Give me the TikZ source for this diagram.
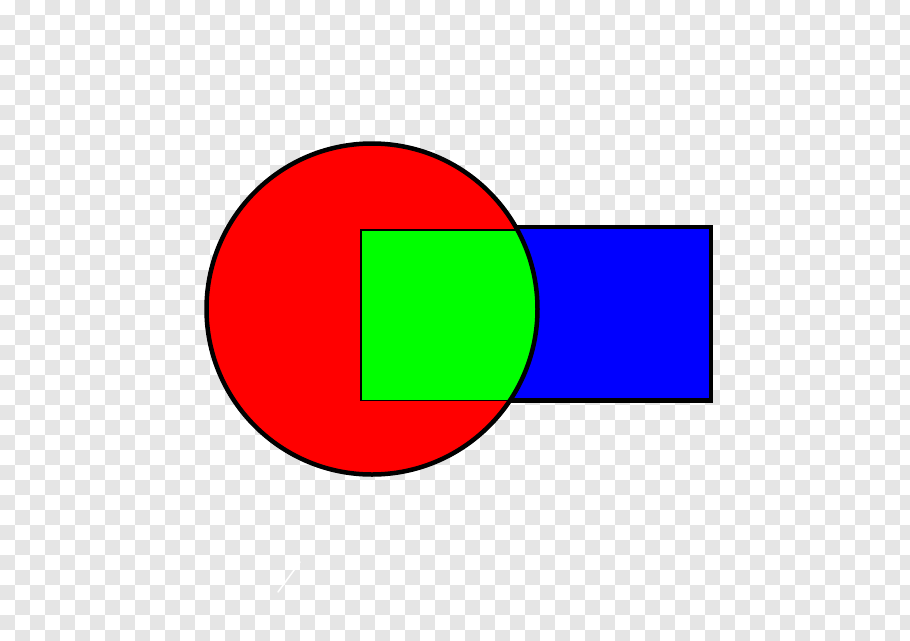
\documentclass[tikz,border=0pt]{standalone}
\usepackage{tikz}

\definecolor{checkgray}{RGB}{229,229,229}
\definecolor{pure red}{RGB}{255,0,0}
\definecolor{pure green}{RGB}{0,255,0}
\definecolor{pure blue}{RGB}{0,0,255}

\begin{document}
\begin{tikzpicture}[
    x=0.02cm, y=-0.02cm,
    outline/.style={draw=black, line width=0.09cm},
    thinline/.style={draw=black, line width=0.036cm},
    tile/.style={fill=checkgray}
]
\useasboundingbox (0,0) rectangle (910,640);

% transparency checkerboard
\fill[white] (0,0) rectangle (910,640);
\begin{scope}
\clip (0,0) rectangle (910,640);
\foreach \i in {0,...,30}
  \foreach \j in {0,...,21} {
    \fill[tile] (30*\i+15,30*\j) rectangle ++(15,15);
    \fill[tile] (30*\i,30*\j+15) rectangle ++(15,15);
  }
\end{scope}
\draw[white, line width=0.03cm, line cap=round] (278,592) -- (300,562);

\coordinate (centre) at (372,309);
\coordinate (boxnw) at (360,227);
\coordinate (boxse) at (711,400.5);

% blue box
\fill[pure blue] (boxnw) rectangle (boxse);
\draw[outline] (boxnw) rectangle (boxse);

% red disc
\fill[pure red] (centre) circle[radius=165.5];

% overlap
\begin{scope}
\clip (centre) circle[radius=165.5];
\fill[pure green] (361,230) rectangle (boxse);
\draw[thinline] (361,230) rectangle (boxse);
\end{scope}

\draw[outline] (centre) circle[radius=165.5];
\end{tikzpicture}
\end{document}
